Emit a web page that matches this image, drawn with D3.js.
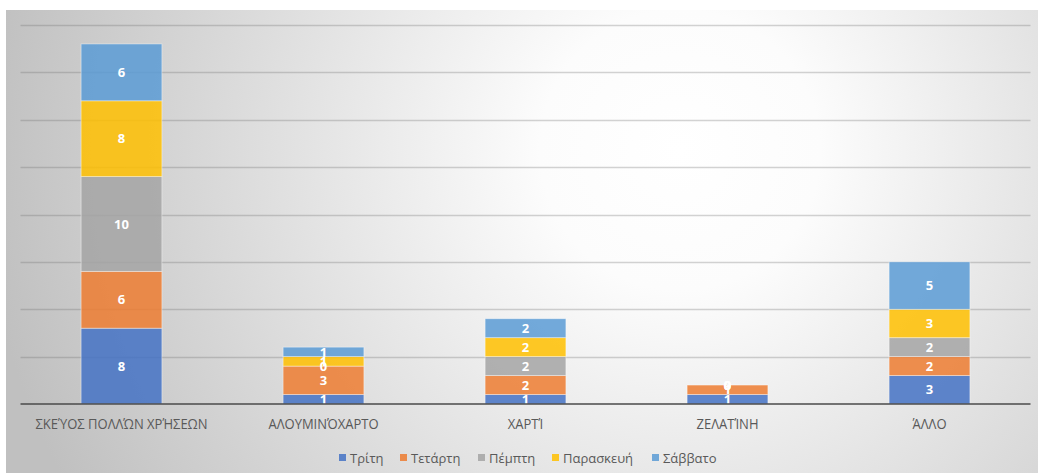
<!DOCTYPE html>
<html><head><meta charset="utf-8">
<script src="https://cdn.jsdelivr.net/npm/d3@7"></script>
<style>html,body{margin:0;padding:0;background:#fff;overflow:hidden}</style>
</head><body>
<svg id="c" width="1038" height="473"></svg>
<script>
const categories = ["ΣΚΕΎΟΣ ΠΟΛΛΏΝ ΧΡΉΣΕΩΝ", "ΑΛΟΥΜΙΝΌΧΑΡΤΟ", "ΧΑΡΤΊ", "ΖΕΛΑΤΊΝΗ", "ΆΛΛΟ"];
const seriesNames = ["Τρίτη", "Τετάρτη", "Πέμπτη", "Παρασκευή", "Σάββατο"];
const tritiValues = [8, 1, 1, 1, 3];
const tetartiValues = [6, 3, 2, 1, 2];
const pemptiValues = [10, 0, 2, 0, 2];
const paraskeviValues = [8, 1, 2, 0, 3];
const savvatoValues = [6, 1, 2, 0, 5];
const gridTicks = [5, 10, 15, 20, 25, 30, 35, 40];
const colors = ["#4472C4", "#ED7D31", "#A5A5A5", "#FFC000", "#5B9BD5"];

const allValues = [tritiValues, tetartiValues, pemptiValues, paraskeviValues, savvatoValues];
const table = categories.map((c, i) => {
  const o = {cat: c};
  seriesNames.forEach((s, j) => o[s] = allValues[j][i]);
  return o;
});
const stacked = d3.stack().keys(seriesNames)(table);

const svg = d3.select("#c");
const defs = svg.append("defs");
const rg = defs.append("radialGradient").attr("id", "bg")
  .attr("gradientUnits", "userSpaceOnUse")
  .attr("cx", 680).attr("cy", 150).attr("r", 700);
rg.append("stop").attr("offset", "0%").attr("stop-color", "#ffffff");
rg.append("stop").attr("offset", "20%").attr("stop-color", "#fcfcfc");
rg.append("stop").attr("offset", "100%").attr("stop-color", "#c0c0c0");

svg.append("rect").attr("x", 6).attr("y", 10).attr("width", 1032).attr("height", 463)
  .attr("fill", "url(#bg)");

const x = d3.scaleBand().domain(categories).range([20.5, 1030.5]).paddingInner(0.6).paddingOuter(0.3);
const y = d3.scaleLinear().domain([0, 40]).range([404, 25]);

// gridlines
svg.append("g").selectAll("line").data(gridTicks).join("line")
  .attr("x1", 20.5).attr("x2", 1030.5)
  .attr("y1", d => Math.round(y(d)) + 0.5).attr("y2", d => Math.round(y(d)) + 0.5)
  .attr("stroke", "rgba(110,110,110,0.3)").attr("stroke-width", 1.3);

// bars
const g = svg.append("g");
stacked.forEach((layer, j) => {
  g.append("g").selectAll("rect").data(layer).join("rect")
    .attr("x", d => x(d.data.cat))
    .attr("width", x.bandwidth())
    .attr("y", d => y(d[1]))
    .attr("height", d => y(d[0]) - y(d[1]))
    .attr("fill", colors[j]).attr("fill-opacity", 0.85)
    .attr("stroke", "rgba(255,255,255,0.5)").attr("stroke-width", 0.8);
});

// x axis
const xAxis = d3.axisBottom(x).tickSize(0).tickPadding(15);
const ax = svg.append("g").attr("transform", "translate(0,404)").call(xAxis);
ax.select(".domain").attr("stroke", "#4a4a4a").attr("stroke-width", 1.6).attr("d", "M20.5,0H1030.5");
ax.selectAll("text").attr("font-family", "'Open Sans', sans-serif").attr("font-size", 14)
  .attr("fill", "#595959").attr("transform", "scale(0.93,1)");

// data labels
stacked.forEach((layer, j) => {
  g.append("g").selectAll("text").data(layer).join("text")
    .attr("x", d => x(d.data.cat) + x.bandwidth() / 2)
    .attr("y", d => (y(d[0]) + y(d[1])) / 2)
    .attr("dy", "0.36em")
    .attr("text-anchor", "middle")
    .attr("font-family", "'Open Sans', sans-serif")
    .attr("font-weight", "bold").attr("font-size", 13)
    .attr("fill", "#ffffff")
    .text(d => d.data[seriesNames[j]]);
});

// legend
const legendX = [339, 400, 478, 552, 652];
const lg = svg.append("g");
seriesNames.forEach((s, j) => {
  const it = lg.append("g").attr("transform", `translate(${legendX[j]},458)`);
  it.append("rect").attr("x", 0).attr("y", -4).attr("width", 7).attr("height", 7).attr("fill", colors[j]).attr("fill-opacity", 0.85);
  it.append("text").attr("x", 11).attr("y", 0).attr("dy", "0.36em")
    .attr("font-family", "'Open Sans', sans-serif").attr("font-size", 13)
    .attr("fill", "#595959").text(s);
});
</script>
</body></html>
